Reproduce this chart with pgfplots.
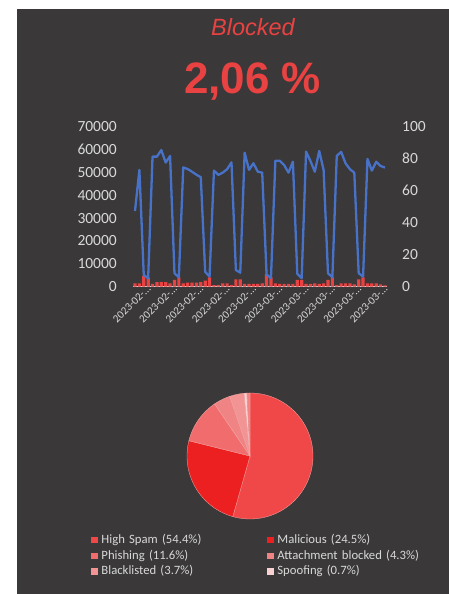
\documentclass[border=0pt]{standalone}
\usepackage{pgfplots}
\usepackage{pgfplotstable}
\pgfplotsset{compat=1.18}
\usepackage{fontspec}
\setmainfont{Carlito}
\newfontfamily\titlefont{Liberation Sans}
\definecolor{panel}{RGB}{58,56,56}
\definecolor{labgray}{RGB}{217,217,217}
\definecolor{titlered}{RGB}{232,66,66}
\definecolor{linblue}{RGB}{72,114,200}
\definecolor{barred}{RGB}{232,66,66}
\definecolor{cHS}{RGB}{240,72,72}
\definecolor{cMA}{RGB}{236,32,32}
\definecolor{cPH}{RGB}{241,108,108}
\definecolor{cAB}{RGB}{240,132,132}
\definecolor{cBL}{RGB}{242,148,148}
\definecolor{cSP}{RGB}{248,210,210}
\definecolor{slb}{RGB}{248,170,170}
\newcommand\lblF{2023-02-...}
\newcommand\lblM{2023-03-...}
\newcommand\legfont{\fontsize{12.7}{15}\selectfont}

\pgfplotstableread{
x y
0 33100
1 51100
2 5100
3 3700
4 56900
5 56900
6 59800
7 54300
8 57200
9 5900
10 4100
11 52200
12 51500
13 50300
14 49000
15 47900
16 6500
17 4400
18 50800
19 48900
20 49900
21 51400
22 54400
23 7300
24 6100
25 58600
26 51100
27 54000
28 50300
29 49900
30 5300
31 3700
32 55100
33 55100
34 53200
35 49900
36 54700
37 5600
38 3700
39 59100
40 55000
41 50300
42 59400
43 51100
44 5900
45 4100
46 57200
47 59000
48 54000
49 51400
50 49900
51 5900
52 4400
53 55900
54 50800
55 54700
56 52800
57 52100
}\linedata

\pgfplotstableread{
x y
0 2.1
1 2.1
2 6.7
3 5.6
4 1.7
5 2.9
6 2.9
7 2.9
8 2.1
9 4.2
10 5.8
11 2.1
12 2.5
13 2.5
14 2.5
15 2.9
16 3.8
17 5.8
18 1.0
19 1.0
20 2.1
21 2.1
22 1.0
23 4.6
24 4.6
25 1.7
26 1.7
27 1.7
28 1.7
29 2.1
30 7.9
31 5.8
32 2.1
33 1.7
34 1.7
35 1.7
36 1.7
37 4.2
38 4.2
39 1.7
40 1.7
41 2.1
42 1.7
43 2.1
44 4.2
45 5.8
46 1.0
47 2.1
48 2.1
49 2.1
50 1.5
51 4.6
52 5.8
53 2.1
54 2.1
55 2.1
56 1.5
57 0.8
}\bardata

\begin{document}
\begin{tikzpicture}
\fill[white] (0pt,0pt) rectangle (449pt,594pt);
\fill[panel] (17pt,0pt) rectangle (449pt,585pt);
\node[anchor=base, inner sep=0pt, text=titlered, font=\titlefont\itshape\fontsize{23.5}{26}\selectfont] at (253pt,558pt) {Blocked};
\node[anchor=base, inner sep=0pt, text=titlered, font=\titlefont\bfseries\fontsize{44}{50}\selectfont] at (252.5pt,500pt) {2,06 \%};

% bars on the right axis
\begin{axis}[
  at={(132.8pt,307.3pt)}, anchor=south west, scale only axis,
  width=254.4pt, height=160pt,
  xmin=-0.5, xmax=57.5, ymin=0, ymax=100,
  axis x line*=bottom, axis y line*=right,
  x axis line style={-, draw=labgray, line width=0.9pt},
  y axis line style={draw=none},
  major tick length=0pt,
  ytick={0,20,40,60,80,100},
  /pgf/number format/assume math mode=true,
  yticklabel style={anchor=west, inner sep=0pt, xshift=14.8pt, text=labgray, font=\fontsize{15.5}{18}\selectfont},
  xtick={0,6,12,18,24,30,36,42,48,54},
  xticklabels={\lblF,\lblF,\lblF,\lblF,\lblF,\lblM,\lblM,\lblM,\lblM,\lblM},
  xticklabel style={rotate=45, anchor=east, inner sep=0pt, xshift=10pt, yshift=-10pt, text=labgray, font=\fontsize{11}{12}\selectfont},
  clip=false,
]
\addplot[ybar, bar width=3.2pt, fill=barred, draw=none] table[x=x,y=y] {\bardata};
\end{axis}

% line on the left axis
\begin{axis}[
  at={(132.8pt,307.3pt)}, anchor=south west, scale only axis,
  width=254.4pt, height=160pt,
  xmin=-0.5, xmax=57.5, ymin=0, ymax=70000,
  hide x axis, axis y line*=left,
  y axis line style={draw=none},
  major tick length=0pt,
  ytick={0,10000,20000,30000,40000,50000,60000,70000},
  scaled y ticks=false,
  /pgf/number format/assume math mode=true,
  /pgf/number format/1000 sep={},
  yticklabel style={anchor=east, inner sep=0pt, xshift=-15.8pt, text=labgray, font=\fontsize{15.5}{18}\selectfont},
  clip=false,
]
\addplot[linblue, line width=2.3pt, line join=round, mark=none] table[x=x,y=y] {\linedata};
\end{axis}

% pie
\begin{axis}[
  at={(187pt,75pt)}, anchor=south west, scale only axis,
  width=126pt, height=126pt,
  xmin=-1, xmax=1, ymin=-1, ymax=1,
  hide axis, clip=false,
  legend columns=2,
  legend cell align=left,
  legend image code/.code={\path[#1,draw=none] (0pt,-3.4pt) rectangle (6.6pt,3.2pt); \path (10.1pt,0pt);},
  legend style={at={(-0.7619,-0.1175)}, anchor=north west, draw=none, fill=none, inner sep=0pt,
    font=\legfont, text=labgray,
    nodes={inner sep=0pt, text height=9.5pt, text depth=2.5pt, text width=165.7pt, align=left},
    row sep=3.7pt, column sep=0pt},
]
\addplot[fill=cHS, draw=slb, line width=0.3pt, domain=-105.84:90, samples=120, variable=\t] ({cos(\t)},{sin(\t)}) -- (0,0) -- cycle;
\addlegendentry{\legfont High Spam (54.4\%)}
\addplot[fill=cMA, draw=slb, line width=0.3pt, domain=-194.04:-105.84, samples=60, variable=\t] ({cos(\t)},{sin(\t)}) -- (0,0) -- cycle;
\addlegendentry{\legfont Malicious (24.5\%)}
\addplot[fill=cPH, draw=slb, line width=0.3pt, domain=-235.8:-194.04, samples=30, variable=\t] ({cos(\t)},{sin(\t)}) -- (0,0) -- cycle;
\addlegendentry{\legfont Phishing (11.6\%)}
\addplot[fill=cAB, draw=slb, line width=0.3pt, domain=-251.28:-235.8, samples=15, variable=\t] ({cos(\t)},{sin(\t)}) -- (0,0) -- cycle;
\addlegendentry{\legfont Attachment blocked (4.3\%)}
\addplot[fill=cBL, draw=slb, line width=0.3pt, domain=-264.6:-251.28, samples=15, variable=\t] ({cos(\t)},{sin(\t)}) -- (0,0) -- cycle;
\addlegendentry{\legfont Blacklisted (3.7\%)}
\addplot[fill=cSP, draw=slb, line width=0.3pt, domain=-267.12:-264.6, samples=5, variable=\t] ({cos(\t)},{sin(\t)}) -- (0,0) -- cycle;
\addlegendentry{\legfont Spoofing (0.7\%)}
\addplot[forget plot, fill=cAB, draw=slb, line width=0.3pt, domain=-270:-267.12, samples=5, variable=\t] ({cos(\t)},{sin(\t)}) -- (0,0) -- cycle;
\end{axis}

\pgfresetboundingbox
\path[use as bounding box] (0pt,0pt) rectangle (449pt,594pt);
\end{tikzpicture}
\end{document}
